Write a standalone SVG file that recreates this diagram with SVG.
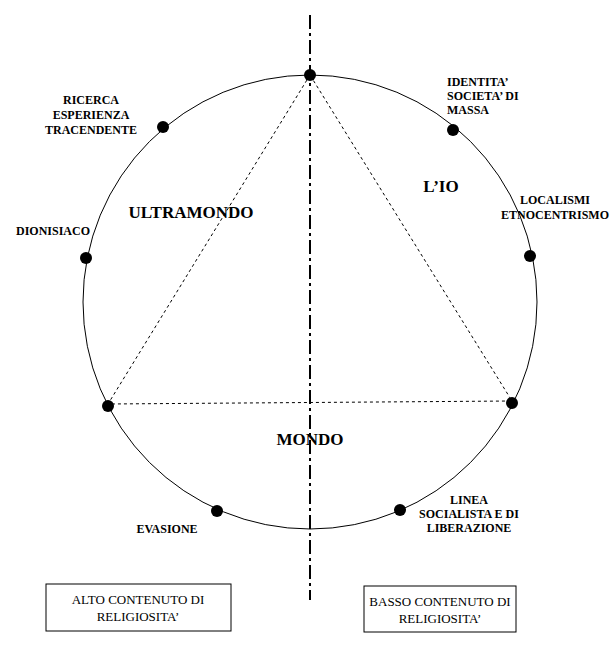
<svg xmlns="http://www.w3.org/2000/svg" width="615" height="655" viewBox="0 0 615 655">
<style>
.d{fill:#000}
.s{font-family:"Liberation Serif","DejaVu Serif",serif;font-weight:bold;font-size:12px;text-anchor:middle}
.b{font-family:"Liberation Serif","DejaVu Serif",serif;font-weight:bold;font-size:17px;text-anchor:middle}
.n{font-family:"Liberation Serif","DejaVu Serif",serif;font-size:13px;text-anchor:middle}
</style>
<rect width="615" height="655" fill="#fff"/>
<g id="connectors" fill="none" stroke="#000">
<line x1="310" y1="15" x2="310" y2="600" stroke-width="2" stroke-dasharray="14,4,3,4"/>
<circle cx="310" cy="302" r="227" stroke-width="1"/>
<polygon points="310,75 108,404 512,401" stroke-dasharray="3,3" stroke-width="1"/>
</g>
<g id="points">
<circle class="d" cx="310" cy="75" r="6"/>
<circle class="d" cx="163" cy="127" r="6"/>
<circle class="d" cx="86" cy="258" r="6"/>
<circle class="d" cx="108" cy="406" r="6"/>
<circle class="d" cx="217" cy="511" r="6"/>
<circle class="d" cx="400" cy="510" r="6"/>
<circle class="d" cx="512" cy="403" r="6"/>
<circle class="d" cx="530" cy="256" r="6"/>
<circle class="d" cx="453" cy="130" r="6"/>
</g>
<g id="labels">
<text class="s" x="91" y="104">RICERCA</text>
<text class="s" x="91" y="119">ESPERIENZA</text>
<text class="s" x="91" y="134">TRACENDENTE</text>
<text class="s" x="53" y="235">DIONISIACO</text>
<text class="s" x="167" y="533">EVASIONE</text>
<text class="s" x="469" y="504" >LINEA</text>
<text class="s" x="469" y="518">SOCIALISTA E DI</text>
<text class="s" x="469" y="532">LIBERAZIONE</text>
<text class="s" x="555" y="204">LOCALISMI</text>
<text class="s" x="555" y="219">ETNOCENTRISMO</text>
<text class="s" x="447" y="86" style="text-anchor:start">IDENTITA’</text>
<text class="s" x="447" y="100" style="text-anchor:start">SOCIETA’ DI</text>
<text class="s" x="447" y="114" style="text-anchor:start">MASSA</text>
<text class="b" x="191" y="218">ULTRAMONDO</text>
<text class="b" x="441" y="192">L’IO</text>
<text class="b" x="310" y="445">MONDO</text>
</g>
<g id="box-left">
<rect x="46" y="584" width="185" height="47" fill="#fff" stroke="#000"/>
<text class="n" x="138" y="604">ALTO CONTENUTO DI</text>
<text class="n" x="138" y="621">RELIGIOSITA’</text>
</g>
<g id="box-right">
<rect x="364" y="586" width="152" height="46" fill="#fff" stroke="#000"/>
<text class="n" x="440" y="606">BASSO CONTENUTO DI</text>
<text class="n" x="440" y="623">RELIGIOSITA’</text>
</g>
</svg>
